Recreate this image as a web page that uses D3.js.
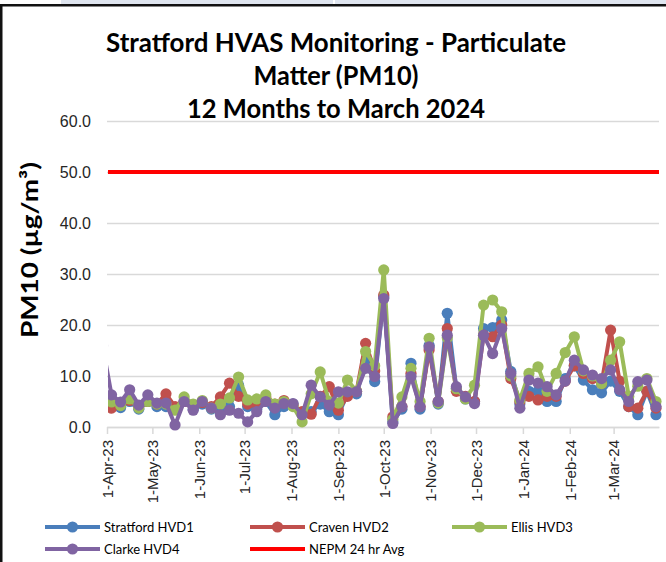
<!DOCTYPE html>
<html>
<head>
<meta charset="utf-8">
<script src="https://cdn.jsdelivr.net/npm/d3@7"></script>
<style>
  body { margin: 0; background: #fff; }
  svg { display: block; font-family: Lato, "Open Sans", sans-serif; }
</style>
</head>
<body>
<svg id="chart" width="666" height="562"></svg>
<script>
// sampling days (1 in 6 days)
const sampleDates = [
  "2023-03-29","2023-04-04","2023-04-10","2023-04-16","2023-04-22","2023-04-28",
  "2023-05-04","2023-05-10","2023-05-16","2023-05-22","2023-05-28","2023-06-03",
  "2023-06-09","2023-06-15","2023-06-21","2023-06-27","2023-07-03","2023-07-09",
  "2023-07-15","2023-07-21","2023-07-27","2023-08-02","2023-08-08","2023-08-14",
  "2023-08-20","2023-08-26","2023-09-01","2023-09-07","2023-09-13","2023-09-19",
  "2023-09-25","2023-10-01","2023-10-07","2023-10-13","2023-10-19","2023-10-25",
  "2023-10-31","2023-11-06","2023-11-12","2023-11-18","2023-11-24","2023-11-30",
  "2023-12-06","2023-12-12","2023-12-18","2023-12-24","2023-12-30","2024-01-05",
  "2024-01-11","2024-01-17","2024-01-23","2024-01-29","2024-02-04","2024-02-10",
  "2024-02-16","2024-02-22","2024-02-28","2024-03-05","2024-03-11","2024-03-17",
  "2024-03-23","2024-03-29"
];

const stratfordHVD1 = [
  4, 5, 3.8, 5, 3.5, 5, 4, 4, 3.5, 5, 3.5, 4.5,
  3.5, 3, 4, 8.2, 4, 3.5, 5, 2.4, 4, 4.5, 2.5, 3,
  4.5, 3, 2.4, 6.5, 6.5, 12.8, 8.9, 25.5, 1, 3.5, 12.5, 3.5,
  16, 4.5, 22.3, 7.5, 5.5, 5, 19.3, 19.5, 21, 10.9, 4.5, 7,
  7, 5, 5, 9.5, 12, 9.2, 7.3, 6.7, 9, 7, 4, 2.4,
  7, 2.4
];
const cravenHVD2 = [
  4, 3.7, 4.5, 5.2, 4, 5, 4.5, 6.5, 4, 5, 4, 4.8,
  4, 5.9, 8.6, 6, 4.5, 4.5, 5.9, 4.5, 5.2, 4.2, 3, 2.5,
  6, 7.9, 3.3, 6, 7, 16.4, 11, 25.9, 2, 4, 10.5, 4,
  15.1, 5, 19.3, 7, 6, 5, 18, 17.7, 20, 9.5, 5, 6,
  5.3, 6, 6, 9, 12, 10.5, 9.5, 8.5, 19, 9, 4, 3.7,
  7, 3.7
];
const ellisHVD3 = [
  5, 4.9, 4.2, 5.5, 3.7, 5, 4.5, 4.5, 3.3, 5.9, 4.5, 5.2,
  3.7, 4.5, 5.7, 9.8, 5.3, 5.5, 6.3, 4.5, 5, 4, 1, 6.5,
  10.8, 5, 4.7, 9.2, 7, 14.8, 12, 30.8, 1.5, 5.9, 11.5, 5,
  17.4, 4.7, 17.5, 7.5, 5.5, 8.2, 23.9, 24.9, 22.6, 10, 5.3, 10.5,
  11.8, 7, 10.5, 14.6, 17.7, 11, 10, 8.5, 13.1, 16.7, 6, 8,
  9.5, 5
];
const clarkeHVD4 = [
  16, 6.3, 4.9, 7.3, 4.3, 6.3, 4.7, 4.7, 0.4, 5, 3.3, 5,
  3.7, 2.4, 3.3, 2.7, 1, 3, 5, 3.7, 4.6, 4.6, 2.4, 8.2,
  5.9, 4.3, 6.9, 6.9, 6.9, 11.5, 9.9, 25.2, 0.7, 4, 9.9, 4,
  15.7, 5, 18, 7.9, 5.9, 4.6, 18, 14.4, 19.3, 10.5, 3.7, 9.2,
  8.6, 7.9, 6.3, 9, 13.1, 11.2, 10.2, 9.5, 11.2, 7.3, 5, 8.9,
  9.2, 4
];
const nepmLimit = 50;

const seriesNames = ["Stratford HVD1", "Craven HVD2", "Ellis HVD3", "Clarke HVD4"];
const seriesColors = ["#4a7ebb", "#c0504d", "#9bbb59", "#8064a2"];
const yTicks = [0, 10, 20, 30, 40, 50, 60];
const monthTicks = [
  "2023-04-01","2023-05-01","2023-06-01","2023-07-01","2023-08-01","2023-09-01",
  "2023-10-01","2023-11-01","2023-12-01","2024-01-01","2024-02-01","2024-03-01"
];
const titleLines = ["Stratford HVAS Monitoring - Particulate", "Matter (PM10)", "12 Months to March 2024"];

const parse = d3.timeParse("%Y-%m-%d");
const dates = sampleDates.map(parse);
const allSeries = [stratfordHVD1, cravenHVD2, ellisHVD3, clarkeHVD4];

const svg = d3.select("#chart");

// page frame bits (document edge around the pasted chart)
svg.append("rect").attr("x", 61).attr("y", 0).attr("width", 272).attr("height", 5).attr("fill", "#dfe5ef");
svg.append("rect").attr("x", 335).attr("y", 0).attr("width", 331).attr("height", 5).attr("fill", "#dfe5ef");
svg.append("rect").attr("x", 0).attr("y", 4).attr("width", 666).attr("height", 2.5).attr("fill", "#111");
svg.append("rect").attr("x", 0).attr("y", 4).attr("width", 2.5).attr("height", 558).attr("fill", "#111");

// plot area
const margin = { left: 107, top: 121, right: 8 };
const plotW = 659 - margin.left;
const plotH = 427 - margin.top;

const x = d3.scaleTime()
  .domain([parse("2023-04-01"), parse("2024-03-31")])
  .range([0, plotW]);
const y = d3.scaleLinear().domain([0, 60]).range([plotH, 0]);

const g = svg.append("g").attr("transform", `translate(${margin.left},${margin.top})`);

// gridlines + y labels
const yAxis = g.append("g")
  .call(d3.axisLeft(y).tickValues(yTicks).tickSize(-plotW).tickPadding(16).tickFormat(d3.format(".1f")));
yAxis.select(".domain").remove();
yAxis.selectAll("line").attr("stroke", "#d9d9d9").attr("stroke-width", 1.5);
yAxis.selectAll("text").attr("font-size", 16).attr("fill", "#262626");

// x axis
const xAxis = g.append("g")
  .attr("transform", `translate(0,${plotH})`)
  .call(d3.axisBottom(x).tickValues(monthTicks.map(parse)).tickSize(7).tickSizeOuter(0)
    .tickFormat(d3.timeFormat("%-d-%b-%y")));
xAxis.select(".domain").attr("stroke", "#d9d9d9").attr("stroke-width", 1.5);
xAxis.selectAll("line").attr("stroke", "#d9d9d9").attr("stroke-width", 1.5);
xAxis.selectAll("text")
  .attr("font-size", 15)
  .attr("fill", "#262626")
  .attr("transform", "rotate(-90)")
  .attr("text-anchor", "end")
  .attr("x", -13)
  .attr("y", 0)
  .attr("dy", "0.35em");

// clip so the March 2023 sample is cut at the axis
svg.append("clipPath").attr("id", "plotClip")
  .append("rect").attr("x", 1).attr("y", -20).attr("width", plotW + 4).attr("height", plotH + 30);

const plot = g.append("g").attr("clip-path", "url(#plotClip)");

// NEPM line
plot.append("line")
  .attr("x1", 0).attr("x2", plotW)
  .attr("y1", y(nepmLimit)).attr("y2", y(nepmLimit))
  .attr("stroke", "#ff0000").attr("stroke-width", 4);

const line = d3.line().x(d => x(d[0])).y(d => y(d[1]));

allSeries.forEach((vals, i) => {
  const pts = dates.map((d, j) => [d, vals[j]]);
  plot.append("path")
    .datum(pts)
    .attr("d", line)
    .attr("fill", "none")
    .attr("stroke", seriesColors[i])
    .attr("stroke-width", 4)
    .attr("stroke-linejoin", "round");
  plot.selectAll(null)
    .data(pts)
    .enter().append("circle")
    .attr("cx", d => x(d[0]))
    .attr("cy", d => y(d[1]))
    .attr("r", 5.6)
    .attr("fill", seriesColors[i]);
});

// title
const titleY = [52, 85, 118];
const titleW = [460, 165, 298];
titleLines.forEach((t, i) => {
  svg.append("text")
    .attr("x", 336).attr("y", titleY[i])
    .attr("text-anchor", "middle")
    .attr("font-size", 26).attr("font-weight", "bold").attr("fill", "#000")
    .attr("textLength", titleW[i]).attr("lengthAdjust", "spacingAndGlyphs")
    .text(t);
});

// y axis title
svg.append("text")
  .attr("transform", "translate(38,250) rotate(-90)")
  .attr("text-anchor", "middle")
  .attr("font-size", 23).attr("font-weight", "bold").attr("fill", "#000")
  .attr("textLength", 176).attr("lengthAdjust", "spacingAndGlyphs")
  .text("PM10 (µg/m³)");

// legend
const legendItems = [
  { name: seriesNames[0], color: seriesColors[0], marker: true, lx: 45, ly: 527 },
  { name: seriesNames[1], color: seriesColors[1], marker: true, lx: 250, ly: 527 },
  { name: seriesNames[2], color: seriesColors[2], marker: true, lx: 452, ly: 527 },
  { name: seriesNames[3], color: seriesColors[3], marker: true, lx: 45, ly: 549 },
  { name: "NEPM 24 hr Avg", color: "#ff0000", marker: false, lx: 250, ly: 549 }
];
const lg = svg.append("g");
legendItems.forEach(it => {
  lg.append("line")
    .attr("x1", it.lx).attr("x2", it.lx + 55)
    .attr("y1", it.ly).attr("y2", it.ly)
    .attr("stroke", it.color).attr("stroke-width", 4);
  if (it.marker) {
    lg.append("circle").attr("cx", it.lx + 27.5).attr("cy", it.ly).attr("r", 5.6).attr("fill", it.color);
  }
  lg.append("text")
    .attr("x", it.lx + 59).attr("y", it.ly)
    .attr("dy", "0.35em")
    .attr("font-size", 13).attr("fill", "#000")
    .text(it.name);
});
</script>
</body>
</html>
